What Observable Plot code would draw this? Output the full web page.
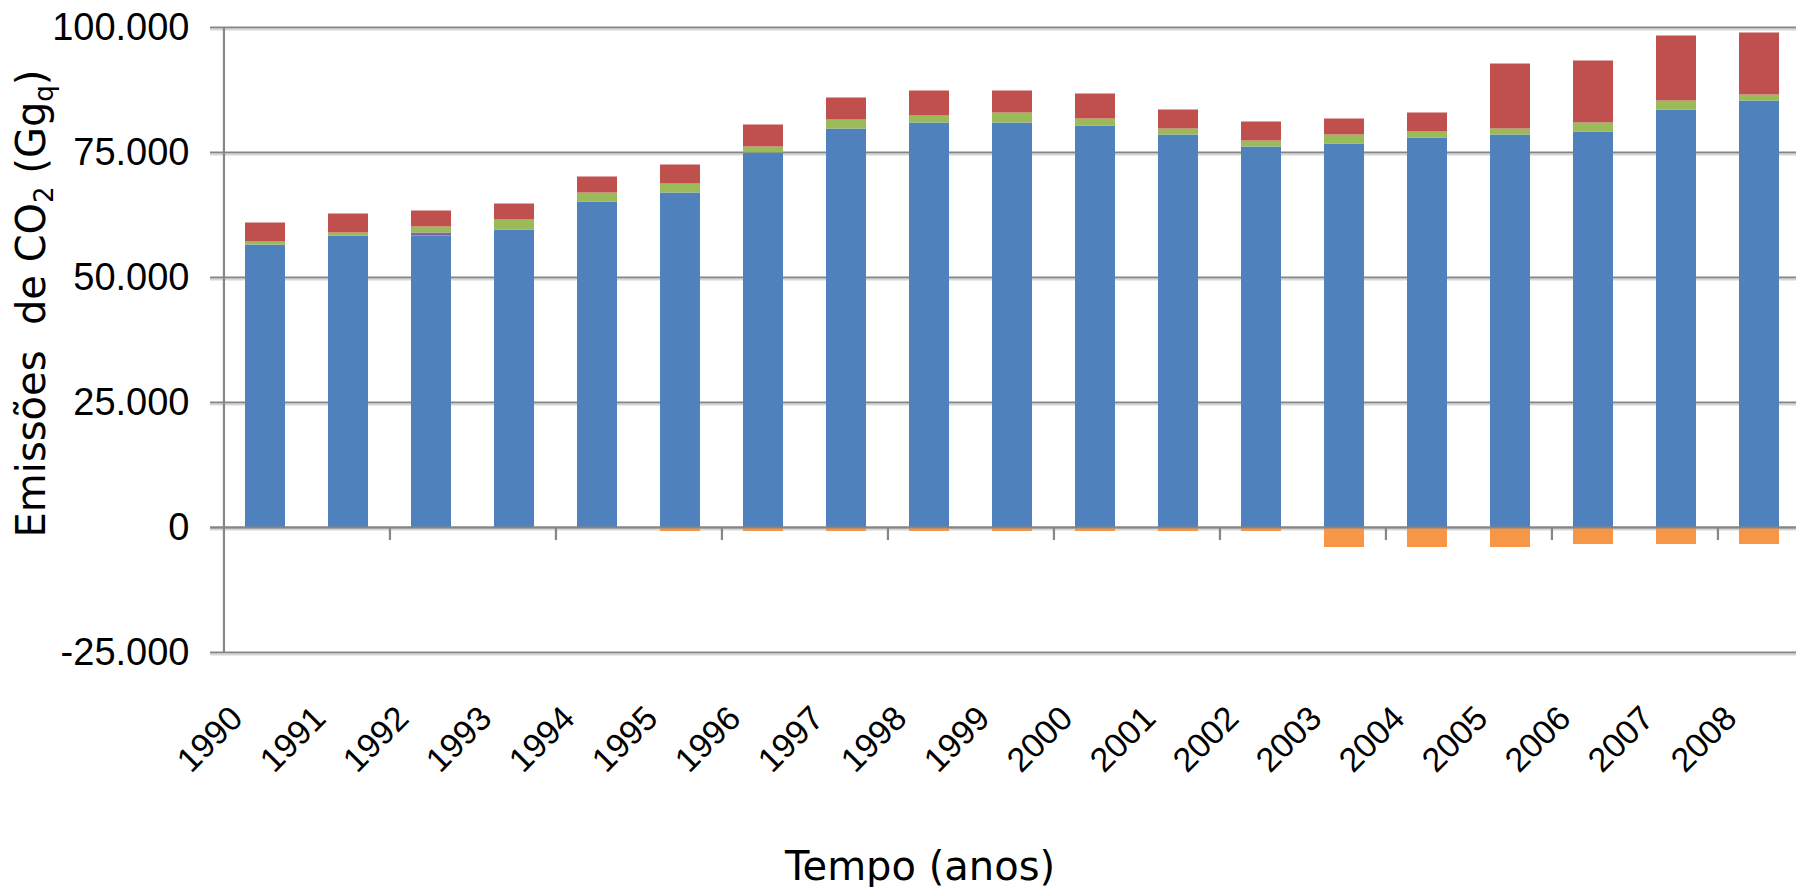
<!DOCTYPE html>
<html>
<head>
<meta charset="utf-8">
<script src="https://cdn.jsdelivr.net/npm/d3@7"></script>
<script src="https://cdn.jsdelivr.net/npm/@observablehq/plot@0.6"></script>
<style>
  html, body { margin: 0; padding: 0; background: #fff; }
  #chart svg { display: block; }
</style>
</head>
<body>
<div id="chart"></div>
<script>
// ---- Data (values in thousands of Gg) ----
const years = [1990,1991,1992,1993,1994,1995,1996,1997,1998,1999,2000,2001,2002,2003,2004,2005,2006,2007,2008];
const serieAzul     = [56.5,58.3,58.3,59.5,65.1,66.9,74.9,79.7,80.9,80.9,80.3,78.5,76.1,76.7,77.9,78.5,79.1,83.5,85.3];
const serieRoxa     = [0,0,0.6,0,0,0,0,0,0,0,0,0,0,0,0,0,0,0,0];
const serieVerde    = [0.6,0.6,1.2,2.0,1.8,1.8,1.2,1.8,1.4,2.0,1.4,1.2,1.2,1.8,1.2,1.2,1.8,1.8,1.2];
const serieVermelha = [3.8,3.8,3.2,3.2,3.2,3.8,4.4,4.4,5.0,4.4,5.0,3.8,3.8,3.2,3.8,13.0,12.4,13.0,12.4];
const serieLaranja  = [0,0,0,0,0,-0.8,-0.8,-0.8,-0.8,-0.8,-0.8,-0.8,-0.8,-4.0,-4.0,-4.0,-3.4,-3.4,-3.4];

const seriesNames  = ["azul","roxa","verde","vermelha","laranja"];
const seriesColors = ["#4F81BD","#8064A2","#9BBB59","#C0504D","#F79646"];
const seriesValues = [serieAzul, serieRoxa, serieVerde, serieVermelha, serieLaranja];

const yTicks = [-25000, 0, 25000, 50000, 75000, 100000];
const xTickMarkYears = [1992,1994,1996,1998,2000,2002,2004,2006,2008];

const yTitle = "Emissões  de CO";
const xTitle = "Tempo (anos)";

const data = years.flatMap((yr, i) =>
  seriesNames.map((s, k) => ({year: yr, series: s, value: seriesValues[k][i] * 1000}))
);

const fmt = d3.formatLocale({decimal: ",", thousands: ".", grouping: [3], currency: ["", ""], minus: "-"}).format(",");

const W = 1796, H = 887;
const x0 = 222.7, step = 83.1, half = step / 2;
const tickFont = "'Liberation Sans Narrow', 'Liberation Sans', sans-serif";
const gridColor = "#868686";

const chart = Plot.plot({
  width: W, height: H,
  marginLeft: 223, marginRight: 0, marginTop: 27, marginBottom: 235,
  style: {background: "#fff", overflow: "visible"},
  x: {type: "band", domain: years, range: [x0, x0 + 19 * step], paddingInner: 0.52, paddingOuter: 0.26, axis: null},
  y: {domain: [-25000, 100000], axis: null},
  color: {domain: seriesNames, range: seriesColors},
  marks: [
    Plot.ruleY(yTicks, {stroke: "#d6d6d6", strokeWidth: 1.6, dy: 2.2, insetLeft: -13}),
    Plot.ruleY(yTicks, {stroke: gridColor, strokeWidth: 2.2, insetLeft: -13}),
    Plot.barY(data, Plot.stackY({x: "year", y: "value", fill: "series", order: seriesNames})),
    Plot.ruleY([0], {stroke: gridColor, strokeWidth: 2.2, insetLeft: -13}),
    Plot.ruleX([years[0]], {dx: -half, stroke: gridColor, strokeWidth: 2.2}),
    Plot.ruleX(xTickMarkYears, {x: d => d, y1: 0, y2: 0, insetBottom: -13, dx: -half, stroke: gridColor, strokeWidth: 2.2}),
    Plot.axisY({ticks: yTicks, tickSize: 0, tickPadding: 34, tickFormat: fmt, fontSize: 38, fontFamily: tickFont, fill: "#000", label: null}),
    Plot.text(years, {x: d => d, text: d => String(d), frameAnchor: "bottom", dy: 68, dx: -21, rotate: -45,
      textAnchor: "end", lineAnchor: "bottom", fontSize: 34, fontFamily: tickFont, fill: "#000"})
  ]
});

document.getElementById("chart").appendChild(chart);

// Axis titles (with subscripts) added as real SVG text
const svg = d3.select(chart);
const titleFont = "'DejaVu Sans', sans-serif";
const yt = svg.append("text")
  .attr("transform", "translate(45,303.5) rotate(-90)")
  .attr("text-anchor", "middle")
  .attr("font-family", titleFont)
  .attr("font-size", 40)
  .attr("fill", "#000");
yt.append("tspan").text(yTitle);
yt.append("tspan").attr("font-size", 26).attr("dy", 8).text("2");
yt.append("tspan").attr("dy", -8).text(" (Gg");
yt.append("tspan").attr("font-size", 26).attr("dy", 8).text("q");
yt.append("tspan").attr("dy", -8).text(")");

svg.append("text")
  .attr("x", 920).attr("y", 880)
  .attr("text-anchor", "middle")
  .attr("font-family", titleFont)
  .attr("font-size", 40)
  .attr("fill", "#000")
  .text(xTitle);
</script>
</body>
</html>
